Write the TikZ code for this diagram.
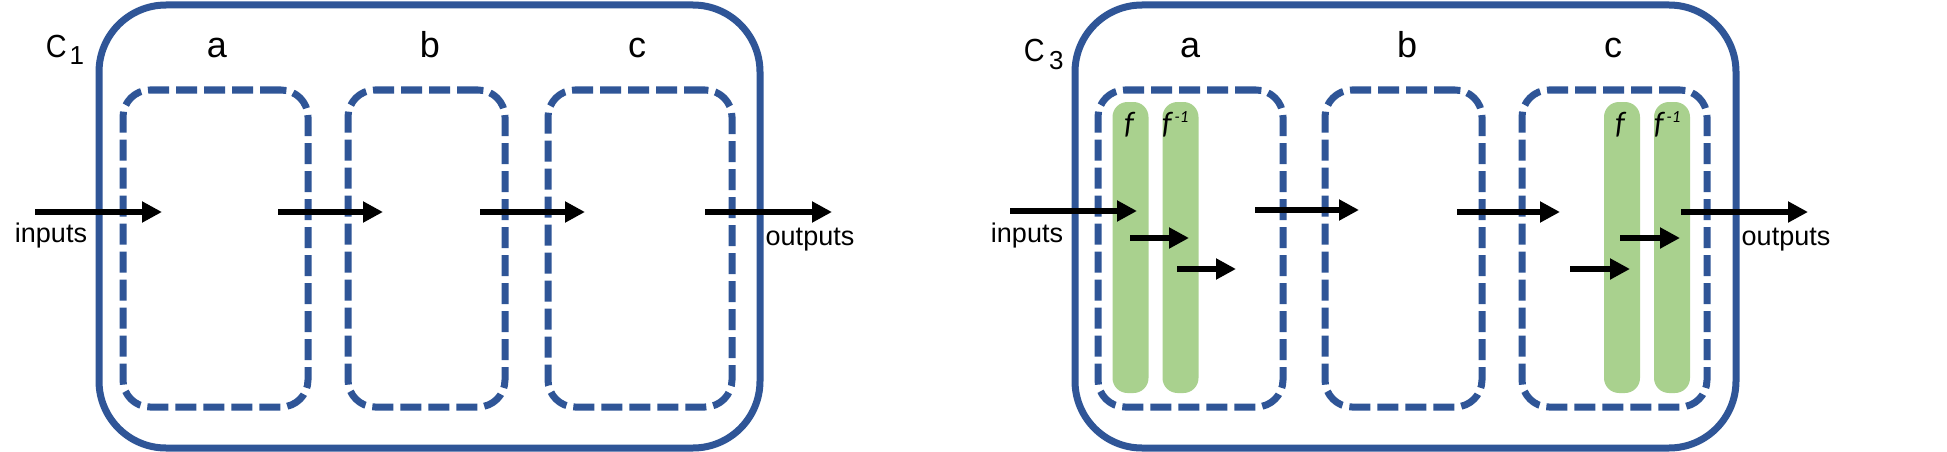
\documentclass[tikz,border=0pt]{standalone}
\usepackage{fontspec}
\setmainfont{Liberation Sans}
\newfontfamily\calfont{Carlito}
\usepackage{graphicx}
\usetikzlibrary{arrows.meta}
\definecolor{boxblue}{RGB}{47,85,151}
\definecolor{barg}{RGB}{169,209,142}
\begin{document}
\begin{tikzpicture}[x=1pt,y=-1pt,
  outerbox/.style={draw=boxblue, line width=7pt, rounded corners=67pt, minimum width=661pt, minimum height=443pt, inner sep=0pt},
  stagebox/.style={draw=boxblue, line width=7pt, dash pattern=on 21pt off 7pt, rounded corners=27pt, minimum height=317pt, inner sep=0pt},
  bar/.style={fill=barg, rounded corners=15pt, minimum width=36pt, minimum height=291pt, inner sep=0pt},
  flow/.style={line width=6pt, -{Triangle[length=20pt,width=20pt]}},
  lbl/.style={font=\fontsize{36}{40}\selectfont, inner sep=0pt, anchor=base},
  clbl/.style={font=\fontsize{32}{36}\selectfont, inner sep=0pt, anchor=base west},
  io/.style={font=\fontsize{27}{30}\selectfont, inner sep=0pt, anchor=base},
  fl/.style={font=\calfont\itshape\fontsize{31}{34}\selectfont, inner sep=0pt, anchor=base},
  fil/.style={font=\calfont\itshape\fontsize{31}{34}\selectfont, inner sep=0pt, anchor=base west},
]
\useasboundingbox[fill=white] (0,0) rectangle (1947,452);

% ---------------- left panel ----------------
\node[outerbox] (outer1) at (429.5,226.5) {};
\node[stagebox, minimum width=185pt] (da1) at (215.5,248.5) {};
\node[stagebox, minimum width=157pt] (db1) at (426.5,248.5) {};
\node[stagebox, minimum width=184pt] (dc1) at (640,248.5) {};

\node[clbl] (cname1) at (45.6,58) {\scalebox{0.9}[1]{C}\hspace{3pt}\raisebox{-7pt}{\fontsize{26}{26}\selectfont 1}};
\node[lbl] (la1) at (217,58) {a};
\node[lbl] (lb1) at (430,58) {b};
\node[lbl] (lc1) at (637,58) {c};

\node[io] (inlab1) at (51,242) {inputs};
\node[io] (outlab1) at (810,245) {outputs};

\coordinate (i1s) at (35,212);  \coordinate (i1e) at (162,212);
\coordinate (ab1s) at (278,212); \coordinate (ab1e) at (383,212);
\coordinate (bc1s) at (480,212); \coordinate (bc1e) at (585,212);
\coordinate (o1s) at (705,212); \coordinate (o1e) at (832,212);
\draw[flow] (i1s) -- (i1e);
\draw[flow] (ab1s) -- (ab1e);
\draw[flow] (bc1s) -- (bc1e);
\draw[flow] (o1s) -- (o1e);

% ---------------- right panel ----------------
\node[outerbox] (outer2) at (1405.5,226.5) {};
\node[bar] (fa) at (1130.5,247.5) {};
\node[bar] (fia) at (1180.5,247.5) {};
\node[bar] (fc) at (1622,247.5) {};
\node[bar] (fic) at (1672,247.5) {};
\node[stagebox, minimum width=185pt] (da2) at (1190.5,248.5) {};
\node[stagebox, minimum width=157pt] (db2) at (1403.5,248.5) {};
\node[stagebox, minimum width=185pt] (dc2) at (1614.5,248.5) {};

\node[clbl] (cname2) at (1023.6,62) {\scalebox{0.9}[1]{C}\hspace{4.5pt}\raisebox{-8pt}{\fontsize{26}{26}\selectfont 3}};
\node[lbl] (la2) at (1190,58) {a};
\node[lbl] (lb2) at (1407,58) {b};
\node[lbl] (lc2) at (1613,58) {c};

\node[fl] (fla) at (1129,133) {f};
\node[fil] (filA) at (1162,133) {f\hspace{3pt}\raisebox{11pt}{\fontsize{17}{17}\selectfont -1}};
\node[fl] (flc) at (1620,133) {f};
\node[fil] (filC) at (1654,133) {f\hspace{3pt}\raisebox{11pt}{\fontsize{17}{17}\selectfont -1}};

\node[io] (inlab2) at (1027,242) {inputs};
\node[io] (outlab2) at (1786,245) {outputs};

\coordinate (i2s) at (1010,211);  \coordinate (i2e) at (1137,211);
\coordinate (fa1s) at (1130,238); \coordinate (fa1e) at (1189,238);
\coordinate (fa2s) at (1177,269); \coordinate (fa2e) at (1236,269);
\coordinate (ab2s) at (1255,210); \coordinate (ab2e) at (1359,210);
\coordinate (bc2s) at (1457,212); \coordinate (bc2e) at (1560,212);
\coordinate (fc1s) at (1570,269); \coordinate (fc1e) at (1630,269);
\coordinate (fc2s) at (1620,238); \coordinate (fc2e) at (1680,238);
\coordinate (o2s) at (1681,212);  \coordinate (o2e) at (1808,212);
\draw[flow] (i2s) -- (i2e);
\draw[flow] (fa1s) -- (fa1e);
\draw[flow] (fa2s) -- (fa2e);
\draw[flow] (ab2s) -- (ab2e);
\draw[flow] (bc2s) -- (bc2e);
\draw[flow] (fc1s) -- (fc1e);
\draw[flow] (fc2s) -- (fc2e);
\draw[flow] (o2s) -- (o2e);
\end{tikzpicture}
\end{document}
